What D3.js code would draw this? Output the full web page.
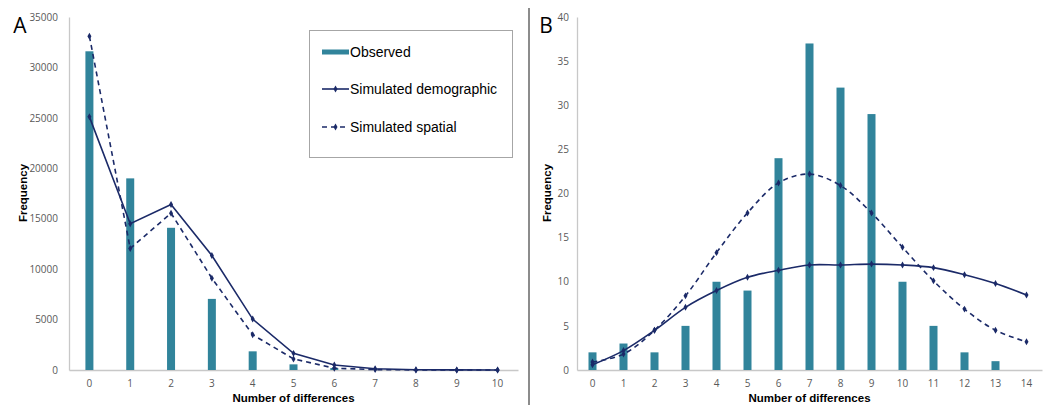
<!DOCTYPE html>
<html><head><meta charset="utf-8">
<script src="https://cdn.jsdelivr.net/npm/d3@7"></script>
<style>
body{margin:0;background:#fff;}
svg{display:block;font-family:"Liberation Sans",Arial,sans-serif;}
</style></head>
<body>
<svg id="c" width="1047" height="405"></svg>
<script>
// ---- data ----
const catsA = [0,1,2,3,4,5,6,7,8,9,10];
const observedA = [31600,19000,14100,7050,1850,560,200,20,0,0,0];
const demographicA = [25100,14500,16400,11350,5050,1650,500,120,30,10,5];
const spatialA = [33100,12050,15550,9100,3500,1100,180,40,10,3,1];
const yTicksA = [0,5000,10000,15000,20000,25000,30000,35000];

const catsB = [0,1,2,3,4,5,6,7,8,9,10,11,12,13,14];
const observedB = [2,3,2,5,10,9,24,37,32,29,10,5,2,1,0];
const demographicB = [0.6,2.2,4.5,7.1,9.0,10.5,11.3,11.9,11.9,12.0,11.9,11.6,10.8,9.8,8.5];
const spatialB = [0.9,1.8,4.5,8.4,13.3,17.8,21.2,22.2,20.9,17.8,13.9,10.1,6.9,4.5,3.2];
const yTicksB = [0,5,10,15,20,25,30,35,40];

const legendLabels = ["Observed","Simulated demographic","Simulated spatial"];

// ---- style ----
const BAR = "#31849B", LINE = "#1B2A68", AXIS = "#C8C8C8", TICK = "#595959";
const svg = d3.select("#c");

function panel(cfg){
  const x = d3.scaleBand().domain(cfg.cats).range([cfg.x0, cfg.x1]).padding(0);
  const y = d3.scaleLinear().domain([0, cfg.ymax]).range([370, 17]);
  const cx = c => x(c) + x.bandwidth()/2;
  const g = svg.append("g");

  // y axis
  const ya = g.append("g").attr("transform",`translate(${cfg.x0},0)`)
    .call(d3.axisLeft(y).tickValues(cfg.yticks).tickFormat(d3.format("d")).tickSize(0).tickSizeOuter(0).tickPadding(cfg.ypad));
  ya.select(".domain").attr("stroke",AXIS).attr("stroke-width",1.3);
  ya.selectAll("text").attr("fill",TICK).style("font-family","'Open Sans',sans-serif").style("font-size","10px");

  // x axis
  const xa = g.append("g").attr("transform","translate(0,370)")
    .call(d3.axisBottom(x).tickSize(0).tickSizeOuter(0).tickPadding(10));
  xa.select(".domain").attr("stroke",AXIS).attr("stroke-width",1.3);
  xa.selectAll("text").attr("fill",TICK).style("font-family","'Open Sans',sans-serif").style("font-size","10px");

  // bars
  g.selectAll("rect.bar").data(cfg.cats).enter().append("rect")
    .attr("x", c => cx(c) - 4).attr("width", 8)
    .attr("y", (c,i) => y(cfg.obs[i])).attr("height", (c,i) => y(0) - y(cfg.obs[i]))
    .attr("fill", BAR);

  const line = d3.line().x((d,i)=>cx(cfg.cats[i])).y(d=>y(d)).curve(cfg.curve);
  g.append("path").datum(cfg.demo).attr("d",line).attr("fill","none")
    .attr("stroke",LINE).attr("stroke-width",1.6);
  g.append("path").datum(cfg.spat).attr("d",line).attr("fill","none")
    .attr("stroke",LINE).attr("stroke-width",1.6).attr("stroke-dasharray","5,4");

  const diamond = d3.symbol().type(d3.symbolDiamond).size(14);
  [cfg.demo, cfg.spat].forEach(ser=>{
    g.selectAll(null).data(ser).enter().append("path")
      .attr("d",diamond).attr("fill",LINE)
      .attr("transform",(d,i)=>`translate(${cx(cfg.cats[i])},${y(d)})`);
  });

  // axis titles
  g.append("text").attr("x",(cfg.x0+cfg.x1)/2).attr("y",402).attr("text-anchor","middle")
    .style("font-weight","bold").style("font-size","11.5px").attr("fill","#000")
    .text("Number of differences");
  g.append("text").attr("transform",`translate(${cfg.ylabX},193) rotate(-90)`)
    .attr("text-anchor","middle").attr("dy","0.35em")
    .style("font-weight","bold").style("font-size","11.5px").attr("fill","#000")
    .text("Frequency");
  g.append("text").attr("x",cfg.letterX).attr("y",33).attr("text-anchor","middle")
    .style("font-family","'Open Sans',sans-serif").style("font-size","21px").attr("fill","#000")
    .text(cfg.letter);
}

panel({cats:catsA, obs:observedA, demo:demographicA, spat:spatialA, yticks:yTicksA, ymax:35000,
  x0:69, x1:518, ypad:11, ylabX:23, letter:"A", letterX:20, curve:d3.curveLinear});
panel({cats:catsB, obs:observedB, demo:demographicB, spat:spatialB, yticks:yTicksB, ymax:40,
  x0:577, x1:1042, ypad:8, ylabX:547, letter:"B", letterX:546, curve:d3.curveCatmullRom.alpha(0.5)});

// divider
svg.append("line").attr("x1",529).attr("x2",529).attr("y1",8).attr("y2",405)
  .attr("stroke","#8C8C8C").attr("stroke-width",2);

// legend
const lg = svg.append("g");
lg.append("rect").attr("x",309.5).attr("y",30.5).attr("width",203).attr("height",127)
  .attr("fill","#fff").attr("stroke","#A6A6A6").attr("stroke-width",1);
const ly = [52, 89, 127];
lg.append("rect").attr("x",322).attr("y",ly[0]-2.5).attr("width",27).attr("height",5).attr("fill",BAR);
lg.append("line").attr("x1",322).attr("x2",349).attr("y1",ly[1]).attr("y2",ly[1]).attr("stroke",LINE).attr("stroke-width",1.6);
lg.append("line").attr("x1",322).attr("x2",349).attr("y1",ly[2]).attr("y2",ly[2]).attr("stroke",LINE).attr("stroke-width",1.6).attr("stroke-dasharray","5,4");
const dm = d3.symbol().type(d3.symbolDiamond).size(14);
[1,2].forEach(k=>lg.append("path").attr("d",dm).attr("fill",LINE).attr("transform",`translate(335.5,${ly[k]})`));
lg.selectAll("text.l").data(legendLabels).enter().append("text")
  .attr("x",350).attr("y",(d,i)=>ly[i]).attr("dy","0.36em")
  .style("font-size","14px").attr("fill","#000").text(d=>d);
</script>
</body></html>
